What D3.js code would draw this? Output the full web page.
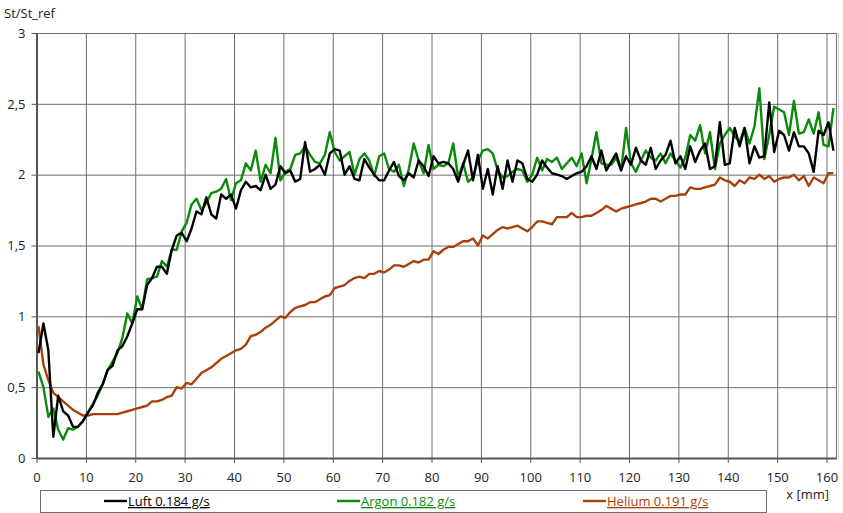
<!DOCTYPE html>
<html lang="de">
<head>
    <meta charset="utf-8">
    <title>St/St_ref</title>
    <script src="https://cdn.jsdelivr.net/npm/d3@7/dist/d3.min.js"></script>
    <style>
        body { margin: 0; background: #fff; }
        text { font-family: "Open Sans", "Noto Sans", sans-serif; fill: #222; }
    </style>
</head>
<body>
<script>
    // values, one sample per mm starting at x = 0.4 mm
    var luft = [
        0.74, 0.95, 0.76, 0.15, 0.44, 0.33, 0.30, 0.22, 0.22, 0.26,
        0.32, 0.37, 0.46, 0.52, 0.62, 0.65, 0.76, 0.79, 0.86, 0.95,
        1.05, 1.05, 1.22, 1.27, 1.35, 1.35, 1.30, 1.47, 1.57, 1.59,
        1.53, 1.62, 1.74, 1.72, 1.84, 1.72, 1.69, 1.86, 1.83, 1.86,
        1.76, 1.89, 1.95, 1.91, 1.92, 1.89, 2.00, 1.90, 1.93, 2.06,
        2.01, 2.03, 1.95, 1.97, 2.23, 2.02, 2.04, 2.07, 2.00, 2.15,
        2.18, 2.17, 2.00, 2.06, 1.97, 1.96, 2.11, 2.05, 2.00, 1.96,
        1.96, 2.03, 2.09, 1.99, 1.96, 2.01, 1.98, 2.10, 2.06, 1.99,
        2.13, 2.08, 2.09, 2.08, 2.04, 1.95, 2.07, 2.17, 1.96, 2.14,
        1.90, 2.04, 1.86, 2.06, 1.90, 2.10, 1.95, 2.10, 2.08, 1.97,
        1.95, 2.00, 2.10, 2.05, 2.01, 2.00, 1.99, 1.97, 1.99, 2.01,
        2.02, 2.06, 2.13, 2.04, 2.17, 2.03, 2.09, 2.15, 2.03, 2.13,
        2.07, 2.19, 2.10, 2.07, 2.19, 2.04, 2.10, 2.14, 2.24, 2.08,
        2.13, 2.04, 2.20, 2.09, 2.17, 2.22, 2.04, 2.06, 2.37, 2.07,
        2.08, 2.33, 2.20, 2.33, 2.08, 2.20, 2.12, 2.13, 2.51, 2.16,
        2.31, 2.28, 2.17, 2.30, 2.20, 2.20, 2.15, 2.02, 2.31, 2.28,
        2.37, 2.17
    ];
    var argon = [
        0.61, 0.50, 0.29, 0.35, 0.20, 0.13, 0.21, 0.20, 0.22, 0.26,
        0.32, 0.38, 0.44, 0.52, 0.62, 0.68, 0.74, 0.85, 1.02, 0.95,
        1.14, 1.05, 1.26, 1.27, 1.28, 1.39, 1.35, 1.47, 1.47, 1.60,
        1.66, 1.79, 1.83, 1.75, 1.80, 1.87, 1.88, 1.90, 1.97, 1.82,
        1.94, 1.96, 2.08, 2.03, 2.17, 1.95, 2.07, 2.01, 2.26, 1.96,
        2.02, 2.04, 2.14, 2.15, 2.20, 2.14, 2.09, 2.08, 2.14, 2.30,
        2.16, 2.10, 2.13, 2.16, 2.00, 2.11, 2.15, 2.10, 1.99, 2.13,
        2.15, 2.04, 2.02, 2.07, 1.92, 2.04, 2.22, 2.10, 2.01, 2.21,
        2.04, 2.07, 2.06, 2.08, 2.22, 1.98, 2.08, 1.95, 1.98, 2.10,
        2.17, 2.18, 2.15, 2.03, 1.98, 1.99, 2.02, 2.04, 2.03, 1.95,
        2.00, 2.12, 2.03, 2.11, 2.09, 2.12, 2.04, 2.08, 2.12, 2.06,
        2.15, 1.94, 2.11, 2.30, 2.08, 2.07, 2.07, 2.12, 2.03, 2.33,
        2.08, 2.02, 2.10, 2.17, 2.12, 2.10, 2.15, 2.08, 2.15, 2.10,
        2.05, 2.12, 2.28, 2.24, 2.35, 2.15, 2.30, 2.04, 2.22, 2.28,
        2.33, 2.27, 2.23, 2.33, 2.22, 2.34, 2.61, 2.11, 2.28, 2.48,
        2.46, 2.44, 2.28, 2.52, 2.29, 2.30, 2.39, 2.29, 2.44, 2.21,
        2.20, 2.47
    ];
    var helium = [
        0.93, 0.66, 0.55, 0.46, 0.43, 0.40, 0.37, 0.34, 0.32, 0.30,
        0.30, 0.31, 0.31, 0.31, 0.31, 0.31, 0.31, 0.32, 0.33, 0.34,
        0.35, 0.36, 0.37, 0.40, 0.40, 0.41, 0.43, 0.44, 0.50, 0.49,
        0.53, 0.52, 0.56, 0.60, 0.62, 0.64, 0.67, 0.70, 0.72, 0.74,
        0.76, 0.77, 0.80, 0.86, 0.87, 0.89, 0.92, 0.94, 0.97, 1.00,
        0.99, 1.03, 1.06, 1.07, 1.08, 1.10, 1.10, 1.12, 1.14, 1.15,
        1.20, 1.21, 1.22, 1.25, 1.27, 1.28, 1.27, 1.30, 1.30, 1.32,
        1.31, 1.33, 1.36, 1.36, 1.35, 1.37, 1.39, 1.38, 1.40, 1.40,
        1.46, 1.44, 1.47, 1.49, 1.49, 1.51, 1.53, 1.53, 1.55, 1.50,
        1.57, 1.55, 1.58, 1.61, 1.63, 1.62, 1.63, 1.64, 1.62, 1.60,
        1.63, 1.67, 1.67, 1.66, 1.65, 1.70, 1.70, 1.70, 1.73, 1.70,
        1.70, 1.71, 1.71, 1.73, 1.75, 1.78, 1.76, 1.74, 1.76, 1.77,
        1.78, 1.79, 1.80, 1.81, 1.83, 1.83, 1.81, 1.83, 1.85, 1.85,
        1.86, 1.86, 1.91, 1.90, 1.90, 1.91, 1.92, 1.93, 1.98, 1.96,
        1.95, 1.92, 1.96, 1.94, 1.98, 1.97, 2.00, 1.97, 1.99, 1.95,
        1.97, 1.98, 1.98, 2.00, 1.96, 1.99, 1.92, 1.98, 1.96, 1.94,
        2.01, 2.01
    ];

    var xTicks = [0, 10, 20, 30, 40, 50, 60, 70, 80, 90, 100, 110, 120, 130, 140, 150, 160];
    var yTicks = [0, 0.5, 1, 1.5, 2, 2.5, 3];
    var seriesNames = ["Luft 0.184 g/s", "Argon 0.182 g/s", "Helium 0.191 g/s"];
    var seriesColors = ["#000000", "#0a8a0a", "#a8400c"];
    var xStart = 0.4, xStep = 1;

    var w = 843, h = 513;
    var pLeft = 36.5, pRight = 836.4, pTop = 33, pBottom = 458;

    var svg = d3.select("body").append("svg")
        .attr("width", w)
        .attr("height", h);

    var x = d3.scaleLinear().domain([0, 162]).range([pLeft, pRight]);
    var y = d3.scaleLinear().domain([0, 3]).range([pBottom, pTop]);

    function comma(v) { return String(v).replace(".", ","); }

    // grid
    svg.append("g")
        .attr("transform", "translate(0," + pBottom + ")")
        .call(d3.axisBottom(x).tickValues(xTicks).tickSize(-(pBottom - pTop)).tickFormat(""))
        .call(function(g) {
            g.select(".domain").remove();
            g.selectAll("line").attr("stroke", "#6e6e6e");
        });
    svg.append("g")
        .attr("transform", "translate(" + pLeft + ",0)")
        .call(d3.axisLeft(y).tickValues(yTicks).tickSize(-(pRight - pLeft)).tickFormat(""))
        .call(function(g) {
            g.select(".domain").remove();
            g.selectAll("line").attr("stroke", "#6e6e6e");
        });

    // frame right side
    svg.append("line")
        .attr("x1", pRight).attr("x2", pRight)
        .attr("y1", pTop).attr("y2", pBottom)
        .attr("stroke", "#6e6e6e");
    svg.append("line")
        .attr("x1", pRight + 2).attr("x2", pRight + 2)
        .attr("y1", pTop).attr("y2", pBottom + 1)
        .attr("stroke", "#c8c8c8");

    // axes
    var xAxis = svg.append("g")
        .attr("transform", "translate(0," + pBottom + ")")
        .call(d3.axisBottom(x).tickValues(xTicks).tickSize(5).tickPadding(10).tickSizeOuter(0));
    var yAxis = svg.append("g")
        .attr("transform", "translate(" + pLeft + ",0)")
        .call(d3.axisLeft(y).tickValues(yTicks).tickSize(5).tickPadding(6).tickSizeOuter(0).tickFormat(comma));

    [xAxis, yAxis].forEach(function(g) {
        g.select(".domain").attr("stroke", "#555").attr("stroke-width", 2);
        g.selectAll(".tick line").attr("stroke", "#555");
        g.selectAll("text")
            .attr("fill", "#222")
            .style("font-size", "13px")
            .style("font-family", "'Open Sans', sans-serif");
    });

    // data lines
    var line = d3.line()
        .x(function(d, i) { return x(xStart + i * xStep); })
        .y(function(d) { return y(d); });

    var data = [luft, argon, helium];
    svg.selectAll("path.series")
        .data([helium, argon, luft])
        .enter()
        .append("path")
        .attr("class", "series")
        .attr("d", line)
        .attr("fill", "none")
        .attr("stroke", function(d) { return seriesColors[data.indexOf(d)]; })
        .attr("stroke-width", 2.4)
        .attr("stroke-linejoin", "round");

    // labels
    svg.append("text")
        .attr("x", 4).attr("y", 18)
        .style("font-size", "13px")
        .text("St/St_ref");
    svg.append("text")
        .attr("x", 829).attr("y", 499)
        .attr("text-anchor", "end")
        .style("font-size", "13px")
        .text("x [mm]");

    // legend
    svg.append("rect")
        .attr("x", 40.5).attr("y", 490.5)
        .attr("width", 726).attr("height", 22)
        .attr("fill", "#fff")
        .attr("stroke", "#6e6e6e");

    var legendX = [104, 337, 583];
    var items = svg.selectAll("g.legend")
        .data(seriesNames)
        .enter()
        .append("g")
        .attr("class", "legend")
        .attr("transform", function(d, i) { return "translate(" + legendX[i] + ",506)"; });

    items.append("line")
        .attr("x1", 0).attr("x2", 23)
        .attr("y1", -5).attr("y2", -5)
        .attr("stroke", function(d, i) { return seriesColors[i]; })
        .attr("stroke-width", 2.4);

    items.append("text")
        .attr("x", 24)
        .style("font-size", "13px")
        .style("text-decoration", "underline")
        .style("fill", function(d, i) { return seriesColors[i]; })
        .text(function(d) { return d; });
</script>
</body>
</html>
